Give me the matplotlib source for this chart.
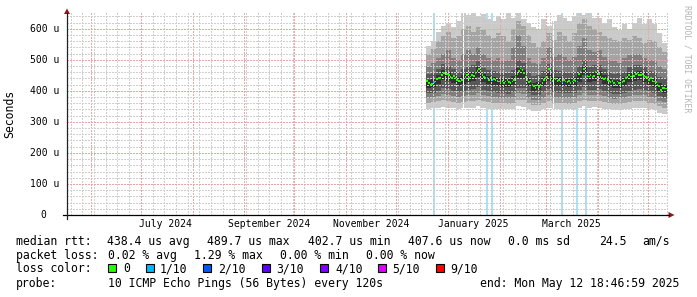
import numpy as np
import pandas as pd
import matplotlib
matplotlib.use("Agg")
import matplotlib.pyplot as plt
from matplotlib.lines import Line2D
from matplotlib.patches import Polygon, Rectangle
import matplotlib.dates as mdates

W, H = 697, 297
MONO = "DejaVu Sans Mono"

end_time = pd.Timestamp("2025-05-12 18:46:59")
start_time = end_time - pd.Timedelta(days=360)
data_start = pd.Timestamp("2024-12-19")

# daily median rtt in microseconds (nan = no data)
median_us = [
    432, 425, 420, 422, 428, 430, 438, 440, 442, 450, 458, 462, 455,
    450, 445, 442, 448, 440, 436, 432, 430, 434, np.nan, 445, 450, 442,
    446, 452, 448, 458, 465, 470, 462, 450, 445, 440, 442, 436, 440, 434,
    438, 436, 432, 430, 428, 432, 426, 430, 434, 428, 424, 430, 436, 445,
    455, 465, 472, 468, 458, 445, 435, 428, 432, 420, 415, 410, 418, 412,
    420, 425, 435, 440, 445, 470, 440, 432, np.nan, 438, 432, 436, 430,
    428, 434, 430, 428, 432, 426, 430, 436, 432, 430, 455, 462, 489.7,
    470, 450, 448, 446, 450, 445, 448, 460, 462, 455, 445, 440, 438, 442,
    436, 432, 428, 432, 425, 420, 430, 426, 422, 428, 432, 440, 445, 450,
    446, 452, 448, 455, 458, 452, 450, 455, 448, 445, 440, 436, 440, 432,
    430, 428, 420, 415, 402.7, 410, 408, 407.6,
]
loss_day_index = [4, 36, 39, 81, 90, 95]
loss_count = [1, 1, 1, 1, 1, 1]
missing_days = ["2025-01-10", "2025-03-05"]

# smoke: sorted pings per 3-day bin (us)
smoke_bin_days = 3
ping10 = [545, 560, 590, 610, 620, 605, 625, 650, 645, 650, 640, 648, 630, 625, 640, 630,
          650, 635, 650, 630, 620, 605, 600, 630, 610, 625, 645, 635, 625, 640, 650, 645,
          650, 635, 635, 620, 630, 605, 595, 615, 600, 620, 635, 615, 630, 615, 585, 555]
ping9 = [520, 535, 560, 575, 590, 570, 575, 600, 610, 590, 605, 595, 580, 570, 585, 575,
         560, 600, 625, 610, 580, 555, 540, 560, 585, 565, 590, 575, 560, 585, 620, 630,
         610, 600, 590, 575, 570, 565, 560, 570, 565, 575, 570, 555, 565, 560, 540, 525]
ping8 = [480, 490, 505, 520, 530, 505, 500, 520, 530, 520, 540, 520, 505, 500, 505, 495,
         500, 540, 580, 545, 505, 490, 485, 505, 540, 510, 520, 510, 500, 510, 545, 570,
         530, 525, 530, 510, 500, 495, 490, 505, 515, 520, 520, 505, 500, 495, 480, 470]
ping7 = [455, 458, 470, 485, 480, 470, 462, 470, 478, 482, 495, 475, 468, 465, 460, 458,
         458, 468, 498, 488, 462, 448, 450, 465, 485, 466, 464, 460, 458, 462, 480, 500,
         478, 482, 484, 470, 462, 455, 456, 462, 476, 482, 484, 478, 465, 460, 445, 440]
ping6 = [436, 437, 450, 466, 460, 452, 443, 450, 456, 462, 476, 455, 449, 446, 440, 440,
         439, 447, 474, 467, 442, 426, 428, 443, 462, 446, 443, 441, 439, 443, 459, 480,
         458, 461, 464, 450, 442, 434, 436, 443, 457, 462, 465, 459, 446, 440, 424, 419]
ping5 = [410, 412, 422, 436, 432, 425, 417, 422, 428, 433, 445, 427, 422, 419, 414, 413,
         413, 420, 442, 437, 415, 400, 402, 416, 433, 419, 416, 414, 412, 416, 430, 450,
         430, 433, 436, 423, 415, 408, 410, 416, 428, 433, 436, 430, 419, 413, 398, 394]
ping4 = [392, 394, 400, 408, 405, 400, 395, 398, 402, 405, 412, 402, 398, 396, 392, 392,
         391, 396, 410, 408, 394, 385, 386, 395, 405, 396, 394, 393, 392, 394, 402, 412,
         402, 404, 405, 398, 394, 390, 391, 394, 400, 404, 406, 402, 396, 392, 382, 378]
ping3 = [378, 380, 384, 390, 388, 384, 380, 382, 385, 388, 393, 385, 382, 380, 377, 377,
         376, 380, 392, 390, 378, 370, 371, 378, 388, 380, 378, 377, 376, 378, 385, 392,
         385, 387, 388, 382, 378, 375, 376, 378, 383, 386, 388, 385, 380, 376, 368, 364]
ping2 = [362, 363, 366, 370, 368, 365, 362, 364, 366, 368, 372, 366, 363, 362, 360, 360,
         359, 362, 372, 370, 360, 354, 355, 360, 368, 362, 360, 360, 359, 360, 366, 372,
         366, 368, 368, 364, 360, 358, 358, 360, 364, 367, 368, 366, 362, 358, 350, 346]
ping1 = [342, 344, 346, 348, 346, 344, 342, 344, 345, 346, 350, 345, 343, 342, 340, 341,
         340, 342, 350, 348, 340, 334, 335, 340, 346, 342, 340, 341, 340, 341, 345, 350,
         345, 347, 346, 343, 340, 338, 339, 340, 343, 345, 346, 344, 341, 338, 330, 326]

y_ticks = [0, 100, 200, 300, 400, 500, 600]
x_label_dates = ["2024-07-16", "2024-09-16", "2024-11-16", "2025-01-16", "2025-03-16"]
x_label_text = ["July 2024", "September 2024", "November 2024", "January 2025", "March 2025"]

loss_names = ["0", "1/10", "2/10", "3/10", "4/10", "5/10", "9/10"]
loss_colors = ["#26ff00", "#00b8ff", "#0059ff", "#5e00ff", "#7e00ff", "#dd00ff", "#ff0000"]
smoke_greys = ["#cacaca", "#a4a4a4", "#7e7e7e", "#585858", "#323232"]


def fx(x):
    return x / W


def fy(y):
    return 1 - y / H


fig = plt.figure(figsize=(W / 100, H / 100), dpi=100, facecolor="white")
ax = fig.add_axes([fx(67), fy(215), fx(601), (215 - 13.2) / H])
ax.set_facecolor("white")
for s in ax.spines.values():
    s.set_visible(False)

t0 = mdates.date2num(start_time)
t1 = mdates.date2num(end_time)
ax.set_xlim(t0, t1)
ax.set_ylim(0, 650)

day0 = mdates.date2num(data_start)
n_days = len(median_us)
day_left = day0 + np.arange(n_days)

# loss background bars
for d, c in zip(loss_day_index, loss_count):
    ax.bar(day_left[d] + 0.5, 650, width=1.2, bottom=0, color="#a8e2f8", lw=0, zorder=0.6)

# smoke
pings = [ping1, ping2, ping3, ping4, ping5, ping6, ping7, ping8, ping9, ping10]
edges = day0 + np.arange(len(ping1) + 1) * smoke_bin_days
for k, grey in enumerate(smoke_greys):
    lo = np.array(pings[k], float)
    hi = np.array(pings[9 - k], float)
    ax.stairs(hi, edges, baseline=lo, fill=True, color=grey, lw=0, zorder=1)

for d in missing_days:
    t = mdates.date2num(pd.Timestamp(d))
    ax.axvspan(t, t + 0.6, color="white", lw=0, zorder=1.5)

# grid
month_starts = pd.date_range("2024-06-01", "2025-05-01", freq="MS")
mondays = pd.date_range(start_time.normalize(), end_time, freq="W-MON")
ax.set_xticks(mdates.date2num(month_starts))
ax.set_xticks(mdates.date2num(mondays), minor=True)
ax.set_yticks(y_ticks)
ax.set_yticks(np.arange(0, 650, 20), minor=True)
ax.set_axisbelow(False)
ax.grid(which="major", color="#eca6a6", lw=1.0, linestyle=(0, (1, 1)), antialiased=False)
ax.grid(which="minor", color="#cfcfcf", lw=1.0, linestyle=(0, (1, 1)), antialiased=False)
ax.tick_params(which="both", length=0, labelbottom=False, labelleft=False)

# median, coloured by loss
med = np.array(median_us, float)
loss_by_day = np.zeros(n_days, int)
for d, c in zip(loss_day_index, loss_count):
    loss_by_day[d] = c
cols = [loss_colors[c] if c <= 5 else loss_colors[6] for c in loss_by_day]
ok = ~np.isnan(med)
ax.bar(day_left[ok] + 0.5, 6, width=0.85, bottom=med[ok] - 3,
       color=np.array(cols)[ok], lw=0, zorder=3)

# tick labels
for v in y_ticks:
    lab = f"{v} u" if v else "0"
    off = -8 * 0.72 if v else -20.3 * 0.72
    ax.annotate(lab, xy=(0, v), xycoords=("axes fraction", "data"), xytext=(off, 0),
                textcoords="offset points", ha="right", va="center",
                family=MONO, fontsize=7, annotation_clip=False)
for d, lab in zip(x_label_dates, x_label_text):
    ax.annotate(lab, xy=(mdates.date2num(pd.Timestamp(d)), 0),
                xycoords=("data", "axes fraction"), xytext=(0, -9 * 0.72),
                textcoords="offset points", ha="center", va="center",
                family=MONO, fontsize=7, annotation_clip=False)

# axes lines and arrows
fig.add_artist(Line2D([fx(63), fx(669)], [fy(215), fy(215)], color="black", lw=0.9))
fig.add_artist(Line2D([fx(67), fx(67)], [fy(219), fy(13)], color="#222222", lw=0.9))
fig.add_artist(Polygon([[fx(67), fy(8.5)], [fx(64), fy(14)], [fx(70), fy(14)]],
                       closed=True, color="#8b1a1a", lw=0))
fig.add_artist(Polygon([[fx(674.5), fy(215)], [fx(668.5), fy(212)], [fx(668.5), fy(218)]],
                       closed=True, color="#8b1a1a", lw=0))

fig.text(fx(10), fy(113.5), "Seconds", rotation=90, ha="center", va="center",
         family=MONO, fontsize=8.3)
fig.text(fx(687), fy(5), "RRDTOOL / TOBI OETIKER", rotation=270, ha="center", va="top",
         family=MONO, fontsize=5.9, color="#b4b4b4")

# legend / stats block
fs = 8.3
rows = [241.5, 255.5, 269, 283.5]
line1 = [(15.6, "median rtt:"), (107, "438.4 us avg"), (207, "489.7 us max"),
         (307.6, "402.7 us min"), (408, "407.6 us now"), (508, "0.0 ms sd"),
         (599.6, "24.5"), (642, "am/s")]
line2 = [(15.6, "packet loss:"), (108, "0.02 % avg"), (194, "1.29 % max"),
         (280, "0.00 % min"), (365.6, "0.00 % now")]
line4 = [(15.6, "probe:"), (108, "10 ICMP Echo Pings (56 Bytes) every 120s"),
         (479.6, "end: Mon May 12 18:46:59 2025")]
for row, items in zip([rows[0], rows[1], rows[3]], [line1, line2, line4]):
    for x, s in items:
        fig.text(fx(x), fy(row), s, ha="left", va="center", family=MONO, fontsize=fs)

fig.text(fx(15.6), fy(rows[2]), "loss color:", ha="left", va="center", family=MONO, fontsize=fs)
box_x = [108, 145.5, 203, 261.5, 320, 378, 436]
text_x = [123.3, 160, 218.3, 276.7, 335, 392.7, 450]
for bx, tx, name, col in zip(box_x, text_x, loss_names, loss_colors):
    fig.add_artist(Rectangle((fx(bx), fy(271.5)), 8 / W, 8 / H, facecolor=col,
                             edgecolor="black", lw=0.8))
    fig.text(fx(tx), fy(rows[2]), name, ha="left", va="center", family=MONO, fontsize=fs)

fig.savefig("out.png", dpi=100, facecolor="white")
